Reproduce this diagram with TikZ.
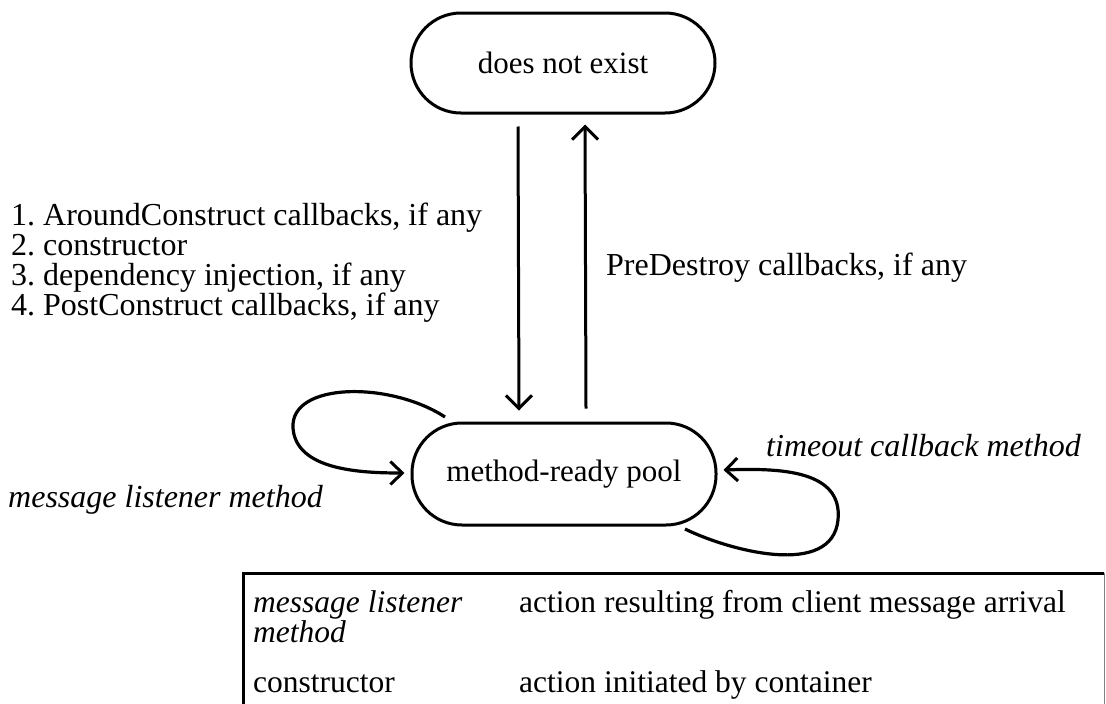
\documentclass[tikz,border=0pt]{standalone}
\usepackage{fontspec}
\setmainfont{Liberation Serif}
\usetikzlibrary{arrows.meta,calc}
\begin{document}
\frenchspacing
\begin{tikzpicture}[x=1pt,y=-1pt,
  state/.style={draw, line width=3pt, rounded corners=50pt, minimum width=304pt, minimum height=100pt, font=\fontsize{31}{31}\selectfont},
  lbl/.style={font=\fontsize{32}{30}\selectfont, inner sep=0pt, anchor=west, align=left},
  ilbl/.style={lbl, font=\fontsize{32}{30}\selectfont\itshape},
  tlbl/.style={font=\fontsize{31.5}{30}\selectfont, inner sep=0pt, anchor=base west},
  itlbl/.style={tlbl, font=\fontsize{31.5}{30}\selectfont\itshape},
  arr/.style={line width=3pt, -{Straight Barb[length=13pt,width=26pt,line width=3pt]}},
  loop/.style={line width=3.2pt, -{Straight Barb[length=12pt,width=23pt,line width=3pt]}}
]
\useasboundingbox (0,0) rectangle (1106,704);
\node[state] (dne) at (563,63) {does not exist};
\node[state, minimum height=102pt] (pool) at (564,474) {method-ready pool};
\draw[arr] ([xshift=-45pt,yshift=-12pt]dne.south) -- ([xshift=-45pt,yshift=11pt]pool.north);
\draw[arr] ([xshift=22pt,yshift=13pt]pool.north) -- ([xshift=22pt,yshift=-10pt]dne.south);
\coordinate (ls) at ($(pool.center)+(-119,-57)$);
\coordinate (le) at ($(pool.west)+(-6,-1)$);
\draw[loop] (ls) .. controls +(-55,-36) and (290,382) .. (293,428) .. controls (296,470) and (360,473) .. (le);
\coordinate (rs) at ($(pool.center)+(121,55)$);
\coordinate (re) at ($(pool.east)+(6,-4)$);
\draw[loop] (rs) .. controls +(45,22) and (832,578) .. (838,520) .. controls (843,470) and (780,468) .. (re);
\node[lbl] (steps) at (11,262.5) {1. AroundConstruct callbacks, if any\\2. constructor\\3. dependency injection, if any\\4. PostConstruct callbacks, if any};
\node[lbl] (pre) at (606,268) {PreDestroy callbacks, if any};
\node[ilbl] (ml) at (8,500) {message listener method};
\node[ilbl] (to) at (766,446) {timeout callback method};
% legend table
\draw[line width=3pt] (243,704) -- (243,573) -- (1104,573);
\draw[line width=1pt, gray] (1104,573) -- (1104,704);
\node[itlbl] (t1) at (253,612) {message listener};
\node[itlbl] (t2) at (253,642) {method};
\node[tlbl] (t3) at (519,612) {action resulting from client message arrival};
\node[tlbl] (t4) at (253,692) {constructor};
\node[tlbl] (t5) at (519,692) {action initiated by container};
\end{tikzpicture}
\end{document}
